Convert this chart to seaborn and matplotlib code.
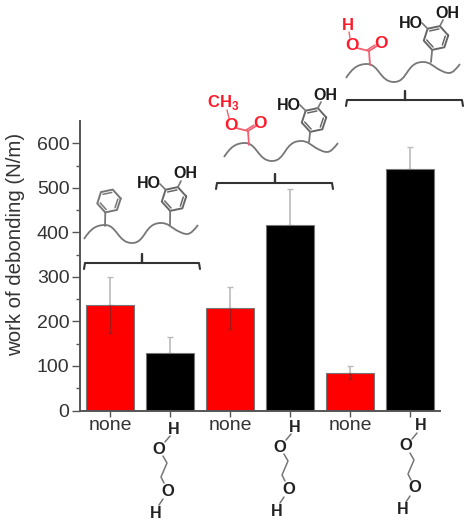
import numpy as np
import pandas as pd
import matplotlib
matplotlib.use('Agg')
import matplotlib.pyplot as plt
import seaborn as sns
from matplotlib.path import Path
from matplotlib.patches import PathPatch

# values
labels = ['none a', 'diol a', 'none b', 'diol b', 'none c', 'diol c']
tick_text = ['none', '', 'none', '', 'none', '']
work = [237, 130, 230, 416, 85, 542]
err = [62, 35, 48, 81, 14, 50]
colors = ['#ff0000', '#000000', '#ff0000', '#000000', '#ff0000', '#000000']

yticks = [0, 100, 200, 300, 400, 500, 600]

GRAY = '#555555'
TXT = '#333333'
RED = '#ff1a2a'
BOND = '#777777'

sns.set_theme(style='ticks')
plt.rcParams['font.family'] = ['Liberation Sans', 'DejaVu Sans']
plt.rcParams['mathtext.fontset'] = 'custom'
plt.rcParams['mathtext.bf'] = 'Liberation Sans:bold'

df = pd.DataFrame({'sample': labels, 'work': work})

fig = plt.figure(figsize=(4.7, 5.3), dpi=100)
# axes spans px 80-440 and y 410.5-121
ax = fig.add_axes([80 / 470, (530 - 410.5) / 530, 360 / 470, 289.5 / 530])
sns.barplot(data=df, x='sample', y='work', hue='sample', palette=colors, legend=False,
            width=0.8, saturation=1, edgecolor='#777777', linewidth=0.8, zorder=2, ax=ax)

# upper whisker is grey and sits behind the bars, lower one shows through the red bars
ax.errorbar(range(6), work, yerr=[[0] * 6, err], fmt='none', ecolor='#bbbbbb', elinewidth=1.2,
            capsize=2.5, capthick=1, zorder=1)
for i in range(6):
    if colors[i] == '#ff0000':
        ax.vlines(i, work[i] - err[i], work[i], color='#a01818', lw=0.9, zorder=3)
        ax.hlines(work[i] - err[i], i - 0.04, i + 0.04, color='#a01818', lw=0.9, zorder=3)

ax.set_xlim(-0.5, 5.5)
ax.set_ylim(0, 650)
ax.set_yticks(yticks)
ax.set_yticks(np.arange(50, 650, 100), minor=True)
ax.set_xticks(range(6))
ax.set_xticklabels(tick_text, fontsize=14, color=TXT)
ax.tick_params(axis='y', labelsize=14, labelcolor=TXT, color=GRAY, length=6, width=1, pad=1.5)
ax.tick_params(axis='y', which='minor', color=GRAY, length=3, width=1)
ax.tick_params(axis='x', color=GRAY, length=4, width=1, pad=1)
ax.set_xlabel('')
ax.set_ylabel('work of debonding (N/m)', fontsize=14.7, color=TXT)
ax.yaxis.set_label_coords(-0.152, 0.572)
for s in ['top', 'right']:
    ax.spines[s].set_visible(False)
for s in ['left', 'bottom']:
    ax.spines[s].set_color(GRAY)
    ax.spines[s].set_linewidth(1.4)

# overlay in pixel coordinates for the hand drawn molecules
ov = fig.add_axes([0, 0, 1, 1], zorder=10)
ov.set_xlim(0, 470)
ov.set_ylim(530, 0)
ov.axis('off')
ov.patch.set_alpha(0)


def bracket(x0, x1, y):
    ov.plot([x0, x0 + 1, x1 - 1, x1], [y + 6, y, y, y + 6], color='#333333', lw=1.5)
    xm = (x0 + x1) / 2
    ov.plot([xm, xm], [y, y - 9], color='#333333', lw=1.7)


def chain(x, y):
    # wavy backbone, x/y at left end
    pts = [(0, 0), (6, -9), (11, -14), (21, -14), (33, -14), (34, 4), (48, 4),
           (62, 4), (60, -16), (77, -16), (84, -16), (87, -12), (92, -9),
           (96, -7), (99, -5), (103, -5), (107, -5), (110, -9), (114, -14)]
    codes = [Path.MOVETO] + [Path.CURVE4] * 18
    p = Path([(x + a, y + b) for a, b in pts], codes)
    ov.add_patch(PathPatch(p, fc='none', ec=BOND, lw=1.3))


def ring(cx, cy, r=12.5, color='#666666'):
    ang = np.radians(np.arange(0, 361, 60) - 12)
    hx = cx + r * np.cos(ang)
    hy = cy + r * np.sin(ang)
    ov.plot(hx, hy, color=color, lw=1.4)
    ix = cx + (r - 3) * np.cos(ang)
    iy = cy + (r - 3) * np.sin(ang)
    for k in [0, 2, 4]:
        ov.plot(ix[k:k + 2], iy[k:k + 2], color=color, lw=1.1)
    return hx, hy


def catechol(cx, cy, stem_x, stem_y):
    hx, hy = ring(cx, cy)
    ov.plot([hx[2], stem_x], [hy[2], stem_y], color=BOND, lw=1.3)
    ov.plot([hx[4], cx - 14], [hy[4], cy - 15], color=BOND, lw=1.2)
    ov.plot([hx[5], cx + 7], [hy[5], cy - 18], color=BOND, lw=1.2)
    ov.text(cx - 25, cy - 15, 'HO', fontsize=11.5, fontweight='bold', color='#1a1a1a', ha='center', va='center')
    ov.text(cx + 11, cy - 25, 'OH', fontsize=11.5, fontweight='bold', color='#1a1a1a', ha='center', va='center')


def ester(x, y, top, tx, ty):
    # x, y = attachment on chain
    ov.plot([x, x - 1, x - 13], [y, y - 14, y - 17], color='#f06070', lw=1.3)
    ov.plot([x - 1, x + 7], [y - 14, y - 19], color='#f06070', lw=1.3)
    ov.plot([x - 3, x + 5], [y - 15, y - 20], color='#f06070', lw=1.1)
    ov.text(x + 11, y - 22, 'O', fontsize=12.5, fontweight='bold', color=RED, ha='center', va='center')
    ov.text(x - 18, y - 20, 'O', fontsize=12.5, fontweight='bold', color=RED, ha='center', va='center')
    ov.text(tx, ty, top, fontsize=12, fontweight='bold', color=RED, ha='center', va='center')


# first polymer (styrene)
chain(84, 239)
catechol(174, 199, 170, 225)
hx, hy = ring(109, 201, r=12, color=BOND)
ov.plot([hx[2], 105], [hy[2], 226], color=BOND, lw=1.3)
bracket(84, 200, 263)

# second polymer (methyl ester)
chain(224, 157)
catechol(314, 120, 309, 142)
ester(249, 145, r'CH$_{\mathbf{3}}$', 223, 103)
ov.plot([229, 227], [118, 110], color='#f06070', lw=1)
bracket(216, 333, 183)

# third polymer (acid)
chain(346, 78)
catechol(436, 38, 431, 62)
ester(370, 65, 'H', 348, 25)
ov.plot([350, 349], [38, 32], color='#f06070', lw=1)
bracket(346, 463, 100)


def diol(x, y):
    ov.text(x + 1, y, 'H', fontsize=11.5, fontweight='bold', color='#222222', ha='center', va='center')
    ov.plot([x - 3, x - 8], [y + 7, y + 13], color=BOND, lw=1.1)
    ov.text(x - 14, y + 20, 'O', fontsize=12, fontweight='bold', color='#222222', ha='center', va='center')
    ov.plot([x - 10, x - 6, x - 12, x - 9], [y + 27, y + 34, y + 48, y + 54], color=BOND, lw=1.1)
    ov.text(x - 5, y + 62, 'O', fontsize=12, fontweight='bold', color='#222222', ha='center', va='center')
    ov.plot([x - 10, x - 14], [y + 70, y + 76], color=BOND, lw=1.1)
    ov.text(x - 17, y + 84, 'H', fontsize=11.5, fontweight='bold', color='#222222', ha='center', va='center')


diol(173, 429)
diol(294, 427)
diol(420, 426)

fig.savefig('out.png', dpi=100)
